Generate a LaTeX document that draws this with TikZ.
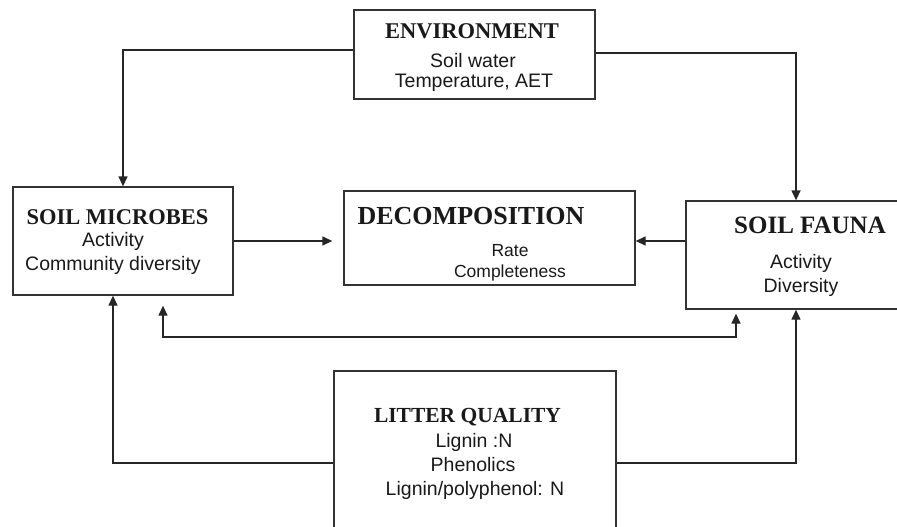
\documentclass[tikz,border=0pt]{standalone}
\usepackage{fontspec}
\setmainfont{Liberation Serif}
\setsansfont{Liberation Sans}
\usetikzlibrary{arrows.meta}
\begin{document}
\begin{tikzpicture}[x=1pt,y=-1pt,
  tp/.tip={Triangle[length=10pt,width=9pt]},
  box/.style={draw=black!80, line width=1.3pt, rectangle, inner sep=0pt},
  conn/.style={draw=black!85, line width=1.3pt},
  arr/.style={conn, -tp},
  both/.style={conn, tp-tp},
  hd/.style={font=\fontsize{#1}{#1}\selectfont\bfseries, anchor=base, inner sep=0pt, text=black!90},
  tx/.style={font=\sffamily\fontsize{#1}{#1}\selectfont, anchor=base, inner sep=0pt, text=black!90}]
\useasboundingbox (0,0) rectangle (897,527);
\clip (0,0) rectangle (897,527);

% boxes
\node[box, minimum width=241pt, minimum height=89pt]  (env)    at (474.5,54.5) {};
\node[box, minimum width=220pt, minimum height=108pt] (micro)  at (123,241)    {};
\node[box, minimum width=291pt, minimum height=94pt]  (decomp) at (489.5,238)  {};
\node[box, minimum width=220pt, minimum height=108pt] (fauna)  at (796,255)    {};
\node[box, minimum width=282pt, minimum height=184pt] (litter) at (475,463)    {};

% texts
\node[hd=22.5] (envT)  at (472,39)   {ENVIRONMENT};
\node[tx=19.5] (envA)  at (473,67)   {Soil water};
\node[tx=19.5] (envB)  at (474,88)   {Temperature, AET};

\node[hd=22.5] (micT)  at (117.5,224) {SOIL MICROBES};
\node[tx=19.5] (micA)  at (113,246)   {Activity};
\node[tx=19.5] (micB)  at (113,270)   {Community diversity};

\node[hd=26]   (decT)  at (471,224)   {DECOMPOSITION};
\node[tx=17.5] (decA)  at (510,256)   {Rate};
\node[tx=17.5] (decB)  at (510,277)   {Completeness};

\node[hd=25]   (fauT)  at (810,233)   {SOIL FAUNA};
\node[tx=19.5] (fauA)  at (801,268)   {Activity};
\node[tx=19.5] (fauB)  at (801,292)   {Diversity};

\node[hd=21.5] (litT)  at (467.5,422) {LITTER QUALITY};
\node[tx=19.5] (litA)  at (474,447)   {Lignin :N};
\node[tx=19.5] (litB)  at (473,471)   {Phenolics};
\node[tx=19.5] (litC)  at (475,495)   {Lignin/polyphenol: N};

% connectors
\draw[arr] ([yshift=4.5pt]env.west) -| (micro.north);
\draw[arr] ([yshift=1.5pt]env.east) -| (fauna.north);
\draw[arr, shorten >=11pt] (micro.east) -- (micro.east -| decomp.west);
\draw[arr] (fauna.west |- micro.east) -- (decomp.east |- micro.east);
\draw[arr] (litter.west) -| ([xshift=-10pt]micro.south);
\draw[arr] (litter.east) -| (fauna.south);
\coordinate (mid) at (450,337);
\draw[both] ([xshift=40pt,yshift=-10pt]micro.south) |- (mid) -| ([xshift=-60pt,yshift=-4pt]fauna.south);
\end{tikzpicture}
\end{document}
